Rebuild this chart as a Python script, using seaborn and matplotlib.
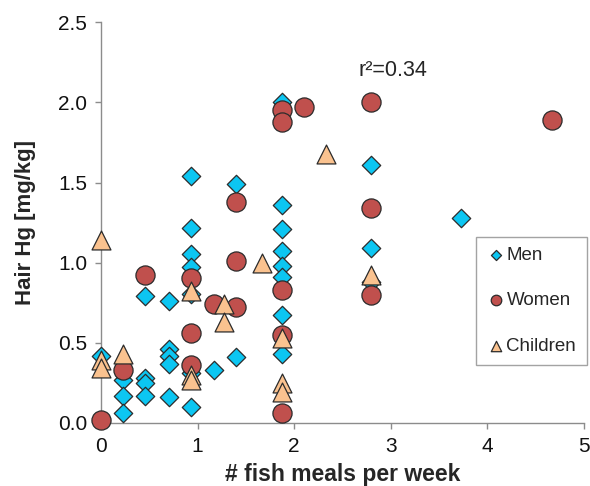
import pandas as pd
import matplotlib
matplotlib.use("Agg")
import matplotlib.pyplot as plt
import seaborn as sns

sns.set_theme(style="white")
plt.rcParams["font.family"] = ["Liberation Sans", "DejaVu Sans"]

# datos
men_x = [0, 0.23, 0.23, 0.23, 0.46, 0.46, 0.46, 0.46, 0.7, 0.7, 0.7, 0.7, 0.7,
         0.93, 0.93, 0.93, 0.93, 0.93, 0.93, 0.93, 1.17, 1.4, 1.4,
         1.87, 1.87, 1.87, 1.87, 1.87, 1.87, 1.87, 1.87, 2.8, 2.8, 2.8, 3.73]
men_y = [0.42, 0.27, 0.17, 0.06, 0.79, 0.28, 0.25, 0.17, 0.76, 0.46, 0.42, 0.37, 0.16,
         1.54, 1.215, 1.055, 0.97, 0.805, 0.31, 0.10, 0.33, 1.49, 0.41,
         2.0, 1.36, 1.21, 1.07, 0.98, 0.91, 0.67, 0.43, 1.61, 1.09, 0.88, 1.28]

women_x = [0, 0.23, 0.46, 0.93, 0.93, 0.93, 1.17, 1.4, 1.4, 1.4,
           1.87, 1.87, 1.87, 1.87, 1.87, 2.1, 2.8, 2.8, 2.8, 4.67]
women_y = [0.02, 0.33, 0.92, 0.905, 0.56, 0.36, 0.74, 1.38, 1.01, 0.72,
           1.95, 1.88, 0.83, 0.55, 0.06, 1.97, 2.0, 1.34, 0.80, 1.89]

child_x = [0, 0, 0, 0.23, 0.93, 0.93, 0.93, 1.27, 1.27, 1.67, 1.87, 1.87, 1.87, 2.33, 2.8]
child_y = [1.14, 0.39, 0.34, 0.43, 0.82, 0.30, 0.27, 0.74, 0.63, 1.0, 0.53, 0.25, 0.19, 1.68, 0.92]

grupos = ["Men", "Women", "Children"]
colores = {"Men": "#0CC6F2", "Women": "#C0504D", "Children": "#FAC28F"}
marcadores = {"Men": "D", "Women": "o", "Children": "^"}
tamanos = {"Men": 88, "Women": 190, "Children": 185}
datos = {"Men": (men_x, men_y), "Women": (women_x, women_y), "Children": (child_x, child_y)}

fig = plt.figure(figsize=(5.9, 4.86), dpi=100)
ax = fig.add_axes([0.171, 0.130, 0.819, 0.824])

for g in grupos:
    df = pd.DataFrame({"x": datos[g][0], "y": datos[g][1]})
    sns.scatterplot(data=df, x="x", y="y", ax=ax, marker=marcadores[g], s=tamanos[g],
                    color=colores[g], edgecolor="#2b2b2b", linewidth=0.9,
                    label=g, clip_on=False, zorder=3)

ax.set_xlim(0, 5)
ax.set_ylim(0, 2.5)
ax.set_xticks([0, 1, 2, 3, 4, 5])
ax.set_yticks([0, 0.5, 1.0, 1.5, 2.0, 2.5])
ax.set_yticklabels(["0.0", "0.5", "1.0", "1.5", "2.0", "2.5"])
for lado in ["top", "right"]:
    ax.spines[lado].set_visible(False)
for lado in ["left", "bottom"]:
    ax.spines[lado].set_color("#8c8c8c")
    ax.spines[lado].set_linewidth(1.0)
ax.tick_params(axis="both", bottom=True, left=True, direction="out", length=4.5,
               width=1, color="#8c8c8c", labelsize=15, labelcolor="#111111", pad=5.5)

ax.set_xlabel("# fish meals per week", fontsize=16.5, fontweight="bold", labelpad=5)
ax.set_ylabel("Hair Hg [mg/kg]", fontsize=16, fontweight="bold", labelpad=16)

ax.text(3.02, 2.2, "r²=0.34", fontsize=15.5, ha="center", va="center")

leg = ax.legend(loc="upper right", bbox_to_anchor=(1.005, 0.465), fontsize=13.5,
                markerscale=0.55, labelspacing=1.5, handletextpad=0.05,
                handlelength=1.0, borderpad=0.55, borderaxespad=0, frameon=True,
                fancybox=False, edgecolor="#8c8c8c")
leg.get_frame().set_linewidth(1.0)

plt.savefig("out.png", dpi=100)
